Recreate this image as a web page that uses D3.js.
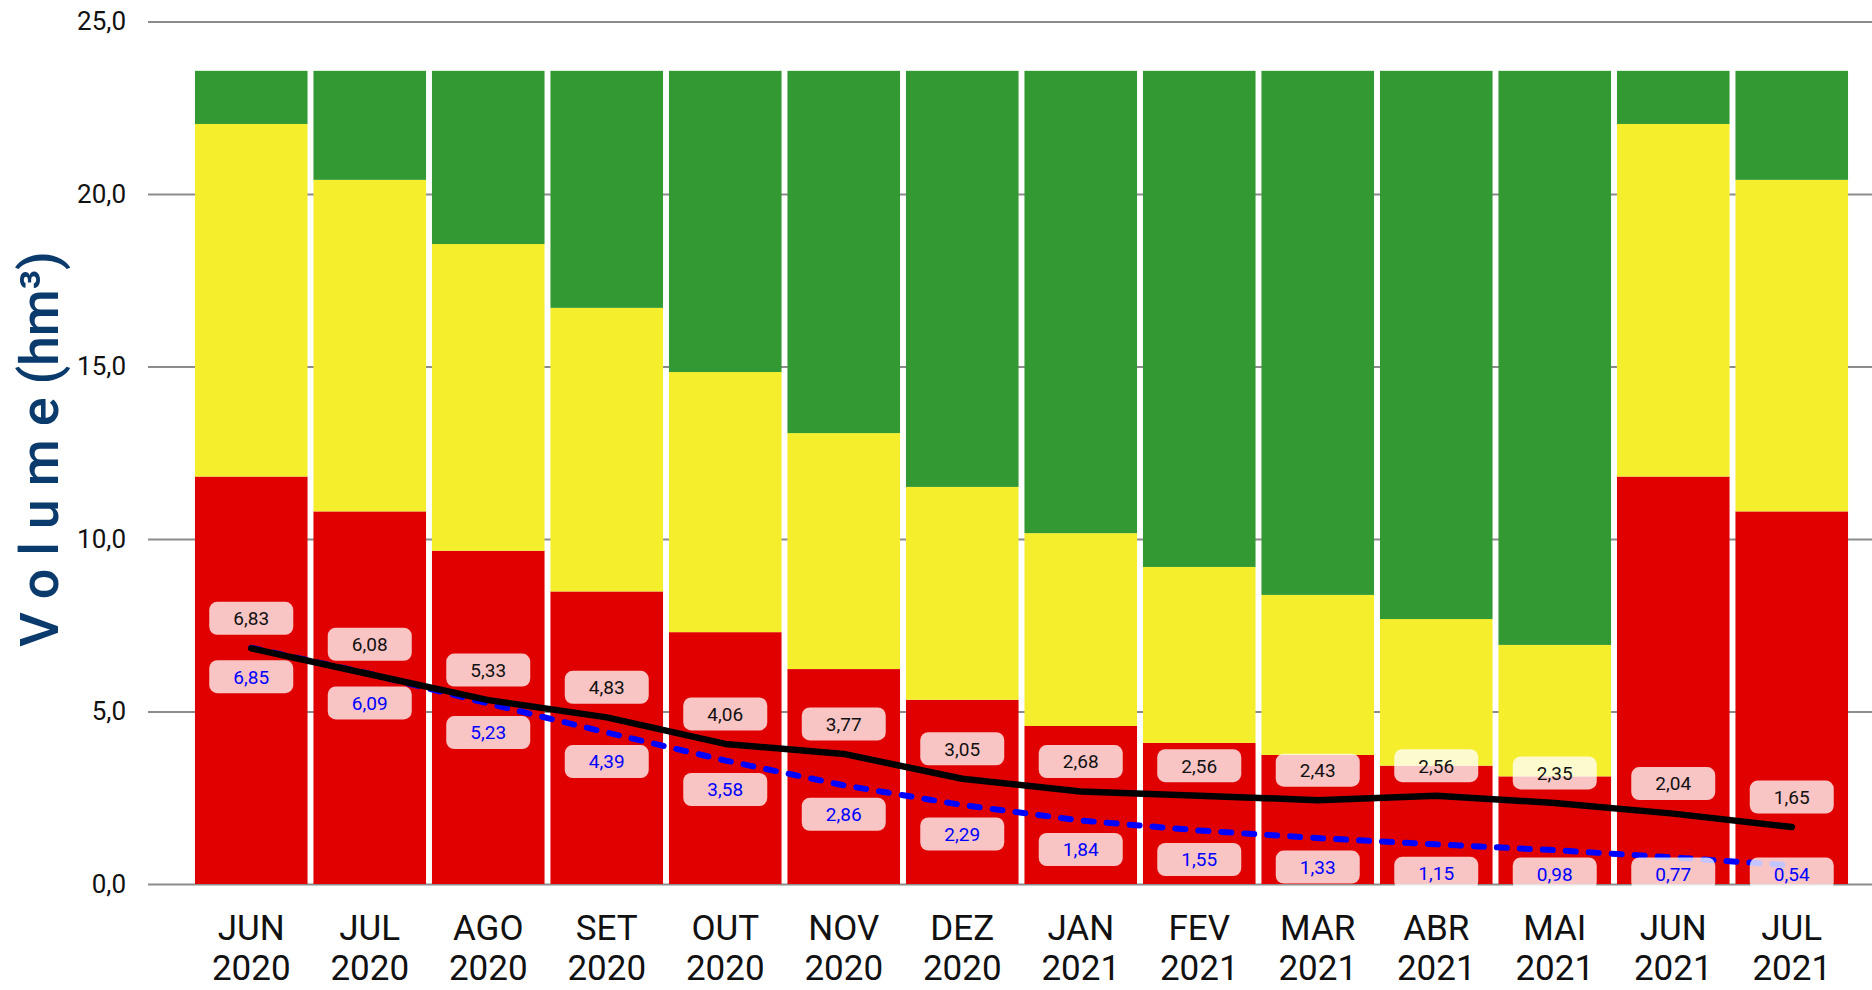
<!DOCTYPE html>
<html>
<head>
<meta charset="utf-8">
<script src="https://cdn.jsdelivr.net/npm/d3@7"></script>
<style>
  body { margin: 0; background: #fff; }
  svg { display: block; }
  text { font-family: Roboto, "Noto Sans", sans-serif; }
</style>
</head>
<body>
<script>
// months shown under the bars
const months = ['JUN 2020', 'JUL 2020', 'AGO 2020', 'SET 2020', 'OUT 2020', 'NOV 2020', 'DEZ 2020',
  'JAN 2021', 'FEV 2021', 'MAR 2021', 'ABR 2021', 'MAI 2021', 'JUN 2021', 'JUL 2021'];

// stacked bands (hm3)
const redBand = [11.81, 10.80, 9.66, 8.48, 7.30, 6.23, 5.34, 4.58, 4.09, 3.74, 3.43, 3.12, 11.81, 10.80];
const yellowBand = [10.22, 9.61, 8.89, 8.22, 7.54, 6.84, 6.17, 5.59, 5.10, 4.64, 4.25, 3.81, 10.22, 9.61];
const greenBand = [1.54, 3.16, 5.02, 6.87, 8.73, 10.50, 12.06, 13.40, 14.38, 15.19, 15.89, 16.64, 1.54, 3.16];

// observed volume (solid black) and forecast (dashed blue)
const observed = [6.83, 6.08, 5.33, 4.83, 4.06, 3.77, 3.05, 2.68, 2.56, 2.43, 2.56, 2.35, 2.04, 1.65];
const forecast = [6.85, 6.09, 5.23, 4.39, 3.58, 2.86, 2.29, 1.84, 1.55, 1.33, 1.15, 0.98, 0.77, 0.54];

const yTicks = [0, 5, 10, 15, 20, 25];

const w = 1872, h = 990;
const svg = d3.select('body').append('svg').attr('width', w).attr('height', h);

const x = d3.scaleBand().domain(months).range([192, 1851]).paddingInner(0.05).paddingOuter(0.025);
const y = d3.scaleLinear().domain([0, 25]).range([884, 21.5]);
const bw = x.bandwidth();
const cx = i => x(months[i]) + bw / 2;
const fmt = v => v.toFixed(2).replace('.', ',');

// grid + y ticks
const yAxis = svg.append('g')
  .attr('transform', 'translate(148,0)')
  .call(d3.axisLeft(y).tickValues(yTicks).tickSize(-(w - 148)).tickPadding(22)
    .tickFormat(d => d.toFixed(1).replace('.', ',')));
yAxis.select('.domain').remove();
yAxis.selectAll('.tick line').attr('stroke', '#8c8c8c').attr('stroke-width', 2);
yAxis.selectAll('.tick text').attr('fill', '#111').style('font-size', '26px');

// y title
svg.append('text')
  .attr('transform', 'translate(58,449) rotate(-90)')
  .attr('text-anchor', 'middle')
  .attr('fill', '#0b3a6c')
  .style('font-size', '54px')
  .style('font-weight', 500)
  .attr('textLength', 396)
  .attr('lengthAdjust', 'spacing')
  .text('V o l u m e (hm³)');

// stacked bars
const rows = months.map((m, i) => ({ month: m, red: redBand[i], yellow: yellowBand[i], green: greenBand[i] }));
const stack = d3.stack().keys(['red', 'yellow', 'green'])(rows);
const colors = { red: '#e10000', yellow: '#f4ee2d', green: '#339933' };

svg.append('g').selectAll('g')
  .data(stack)
  .join('g')
  .attr('fill', d => colors[d.key])
  .selectAll('rect')
  .data(d => d)
  .join('rect')
  .attr('x', d => x(d.data.month))
  .attr('width', bw)
  .attr('y', d => y(d[1]))
  .attr('height', d => y(d[0]) - y(d[1]));

// lines
const line = d3.line().x((d, i) => cx(i)).y(d => y(d));

svg.append('path')
  .datum(forecast)
  .attr('d', line)
  .attr('fill', 'none')
  .attr('stroke', '#0000ff')
  .attr('stroke-width', 6)
  .attr('stroke-linecap', 'round')
  .attr('stroke-dasharray', '10,13');

svg.append('path')
  .datum(observed)
  .attr('d', line)
  .attr('fill', 'none')
  .attr('stroke', '#000')
  .attr('stroke-width', 6.5)
  .attr('stroke-linecap', 'round')
  .attr('stroke-linejoin', 'round');

// value labels
function labels(values, color, offset) {
  const g = svg.append('g').selectAll('g')
    .data(values)
    .join('g')
    .attr('transform', (d, i) => {
      let cy = y(d) + offset;
      if (cy > 874) cy = 874;
      return `translate(${cx(i)},${cy})`;
    });
  g.append('rect')
    .attr('x', -42).attr('y', -16.5)
    .attr('width', 84).attr('height', 33)
    .attr('rx', 8)
    .attr('fill', '#fff')
    .attr('fill-opacity', 0.77);
  g.append('text')
    .attr('text-anchor', 'middle')
    .attr('dy', '0.36em')
    .attr('fill', color)
    .style('font-size', '19px')
    .text(fmt);
}
labels(forecast, '#0000ff', 29);
labels(observed, '#111', -30);

// x labels, two lines
const xl = svg.append('g').selectAll('text')
  .data(months)
  .join('text')
  .attr('text-anchor', 'middle')
  .attr('fill', '#111')
  .style('font-size', '35px');
xl.append('tspan').attr('x', (d, i) => cx(i)).attr('y', 940).text(d => d.split(' ')[0]);
xl.append('tspan').attr('x', (d, i) => cx(i)).attr('y', 980).text(d => d.split(' ')[1]);
</script>
</body>
</html>
